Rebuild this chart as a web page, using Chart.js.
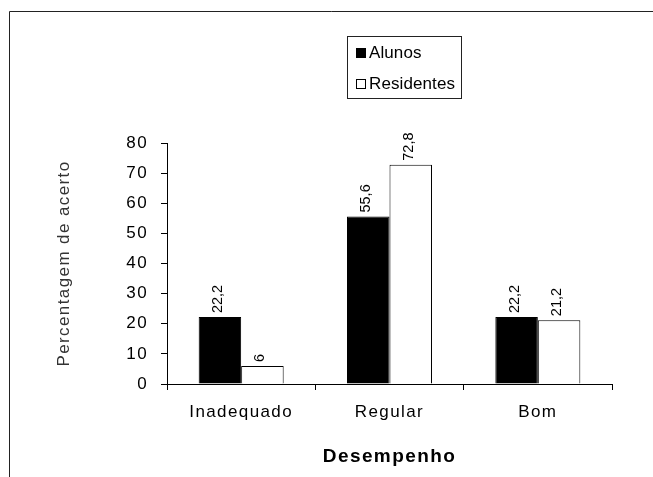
<!DOCTYPE html>
<html>
<head>
<meta charset="utf-8">
<script src="https://cdn.jsdelivr.net/npm/chart.js@4/dist/chart.umd.min.js"></script>
<style>
  html, body { margin: 0; padding: 0; background: #fff; }
  canvas { display: block; }
</style>
</head>
<body>
<canvas id="c" width="653" height="477"></canvas>
<script>
const categories = ['Inadequado', 'Regular', 'Bom'];
const alunos = [22.2, 55.6, 22.2];
const residentes = [6, 72.8, 21.2];
const alunosLabels = ['22,2', '55,6', '22,2'];
const residentesLabels = ['6', '72,8', '21,2'];
const seriesNames = ['Alunos', 'Residentes'];
const yMin = 0, yMax = 80, yStep = 10;
const yTitle = 'Percentagem de acerto';
const xTitle = 'Desempenho';

const FONT = "'Liberation Sans', Arial, sans-serif";

const framePlugin = {
  id: 'frame',
  beforeDraw(chart) {
    const ctx = chart.ctx;
    ctx.save();
    ctx.fillStyle = '#fff';
    ctx.fillRect(0, 0, chart.width, chart.height);
    ctx.strokeStyle = '#222';
    ctx.lineWidth = 1;
    ctx.beginPath();
    ctx.moveTo(9.5, chart.height);
    ctx.lineTo(9.5, 11.5);
    ctx.lineTo(chart.width, 11.5);
    ctx.stroke();
    ctx.restore();
    ctx.letterSpacing = '1.4px';
  },
  beforeDatasetsDraw(chart) {
    chart.ctx.letterSpacing = '0px';
  },
  afterDatasetsDraw(chart) {
    const ctx = chart.ctx;
    const labelSets = [alunosLabels, residentesLabels];
    ctx.save();
    ctx.letterSpacing = '0px';
    ctx.fillStyle = '#000';
    ctx.font = '14.5px ' + FONT;
    ctx.textAlign = 'left';
    ctx.textBaseline = 'middle';
    chart.data.datasets.forEach((ds, di) => {
      const meta = chart.getDatasetMeta(di);
      meta.data.forEach((el, i) => {
        ctx.save();
        ctx.translate(el.x - 2, el.y - 4);
        ctx.rotate(-Math.PI / 2);
        ctx.fillText(labelSets[di][i], 0, 0);
        ctx.restore();
      });
    });
    ctx.restore();
  },
  afterDraw(chart) {
    const ctx = chart.ctx;
    ctx.save();
    ctx.letterSpacing = '0px';
    ctx.strokeStyle = '#222';
    ctx.lineWidth = 1;
    ctx.strokeRect(347.5, 36.5, 114, 62);
    ctx.font = '17px ' + FONT;
    ctx.letterSpacing = '0.1px';
    ctx.textAlign = 'left';
    ctx.textBaseline = 'middle';
    const rows = [53, 84];
    chart.data.datasets.forEach((ds, di) => {
      const y = rows[di];
      ctx.fillStyle = ds.backgroundColor;
      ctx.fillRect(356, y - 5, 10, 10);
      ctx.strokeStyle = '#000';
      ctx.strokeRect(356.5, y - 4.5, 9, 9);
      ctx.fillStyle = '#000';
      ctx.fillText(ds.label, 369, y);
    });
    ctx.restore();
  }
};

new Chart(document.getElementById('c'), {
  type: 'bar',
  data: {
    labels: categories,
    datasets: [
      { label: seriesNames[0], data: alunos, backgroundColor: '#000', borderColor: '#000', borderWidth: 1 },
      { label: seriesNames[1], data: residentes, backgroundColor: '#fff', borderColor: '#000', borderWidth: 1 }
    ]
  },
  options: {
    responsive: false,
    animation: false,
    devicePixelRatio: 1,
    layout: { padding: { top: 143, right: 41, bottom: 4, left: 50 } },
    datasets: { bar: { categoryPercentage: 0.573, barPercentage: 1.0, borderSkipped: 'start' } },
    plugins: { legend: { display: false }, tooltip: { enabled: false } },
    scales: {
      x: {
        offset: true,
        grid: { display: true, offset: true, drawOnChartArea: false, drawTicks: true, tickLength: 6, color: '#000' },
        border: { display: true, color: '#000', width: 1 },
        ticks: { color: '#000', padding: 12, font: { family: FONT, size: 17 }, maxRotation: 0 },
        title: { display: true, text: xTitle, color: '#000', font: { family: FONT, size: 19, weight: 'bold' }, padding: { top: 0, bottom: 5 } },
        afterFit(scale) { scale.height = 477 - 4 - 384; }
      },
      y: {
        min: yMin, max: yMax,
        grid: { display: true, drawOnChartArea: false, drawTicks: true, tickLength: 6, color: '#000' },
        border: { display: true, color: '#000', width: 1 },
        ticks: { stepSize: yStep, color: '#000', padding: 13, font: { family: FONT, size: 17 } },
        title: { display: true, text: yTitle, color: '#333', font: { family: FONT, size: 17 }, padding: { top: 4, bottom: 0 } },
        afterFit(scale) { scale.width = 167 - 50; }
      }
    }
  },
  plugins: [framePlugin]
});
</script>
</body>
</html>
